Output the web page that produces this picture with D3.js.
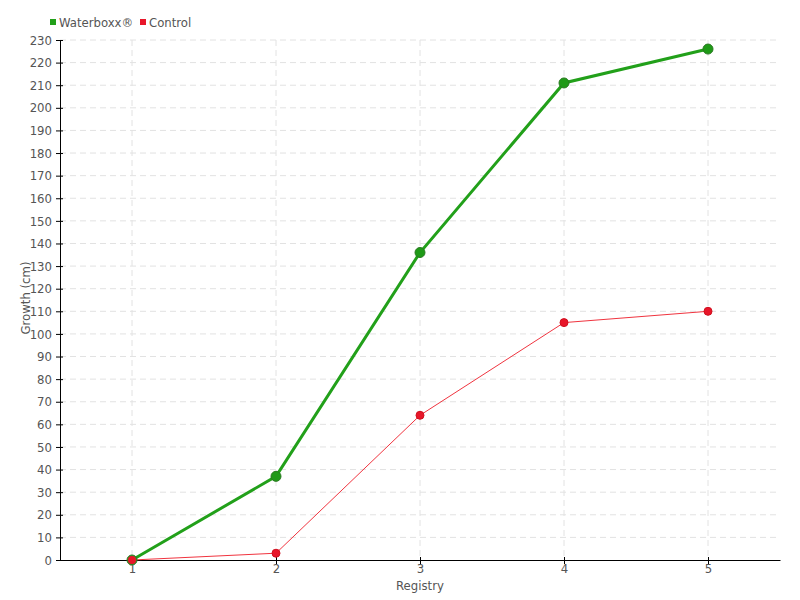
<!DOCTYPE html>
<html><head><meta charset="utf-8">
<script src="https://cdn.jsdelivr.net/npm/d3@7"></script>
<style>
body{margin:0;background:#fff;}
text{font-family:"DejaVu Sans Condensed","Liberation Sans Narrow",sans-serif;fill:#555;}
</style></head><body>
<svg id="c" width="800" height="600"></svg>
<script>
const registry = [1, 2, 3, 4, 5];
const waterboxx = [0, 37, 136, 211, 226];
const control = [0, 3, 64, 105, 110];
const yTicks = d3.range(0, 231, 10);

const svg = d3.select("#c");
const m = {l:60, r:20, t:40, b:40};
const W = 800, H = 600;
const x = d3.scaleLinear().domain([0.5, 5.5]).range([m.l, W - m.r]);
const y = d3.scaleLinear().domain([0, 230]).range([H - m.b, m.t]);

const grid = svg.append("g");
grid.selectAll(".h").data(yTicks.slice(1)).enter().append("line")
  .attr("x1", m.l).attr("x2", W - m.r).attr("y1", d=>y(d)).attr("y2", d=>y(d))
  .attr("stroke", "#e2e2e2").attr("stroke-dasharray", "6,4");
grid.selectAll(".v").data(registry).enter().append("line")
  .attr("x1", d=>x(d)).attr("x2", d=>x(d)).attr("y1", m.t).attr("y2", H - m.b)
  .attr("stroke", "#e2e2e2").attr("stroke-dasharray", "6,4");

const yAx = svg.append("g").attr("transform", `translate(${m.l},0)`)
  .call(d3.axisLeft(y).tickValues(yTicks).tickSize(4).tickSizeOuter(0).tickPadding(4));
yAx.select(".domain").attr("stroke", "#000");
yAx.selectAll(".tick line").attr("x1", -4).attr("x2", 3).attr("stroke", "#000");
yAx.selectAll("text").style("font-size", "13px").attr("fill", "#555");

const xAx = svg.append("g").attr("transform", `translate(0,${H - m.b})`)
  .call(d3.axisBottom(x).tickValues(registry).tickFormat(d3.format("d")).tickSize(4).tickSizeOuter(0).tickPadding(0));
xAx.select(".domain").attr("stroke", "#000");
xAx.selectAll(".tick line").attr("y1", -3).attr("y2", 4).attr("stroke", "#000");
xAx.selectAll("text").style("font-size", "13px").attr("fill", "#555");

svg.append("text").attr("x", 420).attr("y", 590).attr("text-anchor", "middle")
  .style("font-size", "13px").text("Registry");
svg.append("text").attr("transform", "translate(30,298) rotate(-90)").attr("text-anchor", "middle")
  .style("font-size", "13px").text("Growth (cm)");

const line = d3.line().x((d,i)=>x(registry[i])).y(d=>y(d));

svg.append("path").datum(control).attr("d", line).attr("fill", "none")
  .attr("stroke", "#f0343f").attr("stroke-width", 1);
svg.append("path").datum(waterboxx).attr("d", line).attr("fill", "none")
  .attr("stroke", "#22a01a").attr("stroke-width", 3);

svg.selectAll(".pc").data(control).enter().append("circle")
  .attr("cx", (d,i)=>x(registry[i])).attr("cy", d=>y(d)).attr("r", 4)
  .attr("fill", "#e8162a").attr("stroke", "#d0101f").attr("stroke-width", 1);
svg.selectAll(".pw").data(waterboxx).enter().append("circle")
  .attr("cx", (d,i)=>x(registry[i])).attr("cy", d=>y(d)).attr("r", 5)
  .attr("fill", "#1f9a17").attr("stroke", "#2a7a22").attr("stroke-width", 1)
  .attr("fill-opacity", (d,i)=> i===0 ? 0.8 : 1);
svg.append("circle").attr("cx", x(registry[0])).attr("cy", y(control[0])).attr("r", 4)
  .attr("fill", "#e8162a");

const leg = svg.append("g");
const items = [{n:"Waterboxx®", c:"#22a01a", x:50}, {n:"Control", c:"#e8162a", x:140}];
items.forEach(it=>{
  leg.append("rect").attr("x", it.x).attr("y", 19).attr("width", 6).attr("height", 6).attr("fill", it.c);
  leg.append("text").attr("x", it.x + 9).attr("y", 27).style("font-size", "13px").text(it.n);
});
</script>
</body></html>
